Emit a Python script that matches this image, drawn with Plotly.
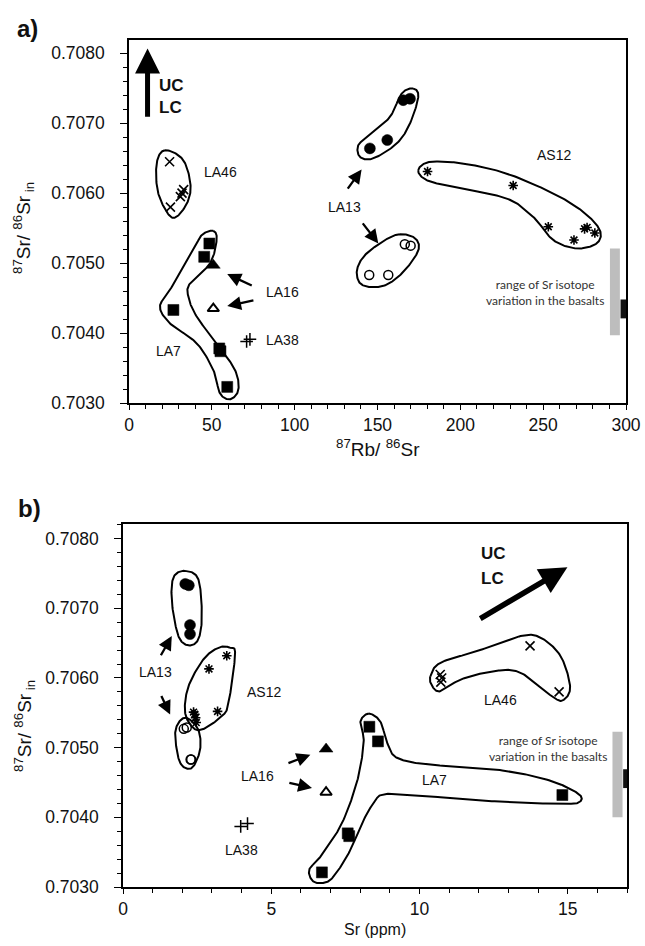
import numpy as np
import plotly.graph_objects as go

W, H = 645, 946

# ---------------- Panel a : 87Rb/86Sr vs 87Sr/86Sr_in ----------------
a_la46_x = [24.5, 25.0, 31.0, 32.0, 33.0]
a_la46_y = [0.70645, 0.70580, 0.70595, 0.70600, 0.70605]
a_la7_x = [48.5, 45.4, 26.8, 54.5, 55.2, 59.3]
a_la7_y = [0.70528, 0.70509, 0.70433, 0.70378, 0.70374, 0.70323]
a_la16f_x = [50.9]
a_la16f_y = [0.70497]
a_la16o_x = [50.9]
a_la16o_y = [0.70435]
a_la38_x = [71.0, 73.0]
a_la38_y = [0.70388, 0.70391]
a_la13f_x = [165.5, 169.6, 155.9, 145.4]
a_la13f_y = [0.70733, 0.70735, 0.70676, 0.70664]
a_la13o_x = [145.0, 156.5, 166.5, 170.0]
a_la13o_y = [0.70483, 0.70483, 0.70527, 0.70525]
a_as12_x = [180.2, 231.9, 253.1, 268.6, 275.0, 276.5, 281.2]
a_as12_y = [0.70631, 0.70611, 0.70552, 0.70533, 0.70549, 0.70551, 0.70543]

# envelopes (hand-drawn outlines, control points)
a_env_la46_x = [21.7, 16.7, 17.7, 25.8, 33.8, 37.2, 32.8]
a_env_la46_y = [0.706614, 0.706424, 0.705996, 0.705653, 0.705804, 0.706090, 0.706471]
a_env_la7_x = [50.9, 52.9, 48.9, 36.8, 35.8, 40.9, 52.9, 64.0, 66.0, 61.0, 54.9, 50.9,
               40.9, 24.7, 18.7, 24.7, 38.8, 43.9]
a_env_la7_y = [0.705461, 0.705329, 0.704996, 0.704710, 0.704519, 0.704233, 0.703853,
               0.703471, 0.703186, 0.703053, 0.703139, 0.703471, 0.703853, 0.704139,
               0.704376, 0.704614, 0.705186, 0.705400]
a_env_la13f_x = [171.6, 174.6, 169.6, 161.6, 147.4, 139.4, 138.4, 145.4, 157.5, 164.6]
a_env_la13f_y = [0.707496, 0.707376, 0.706996, 0.706710, 0.706496, 0.706519, 0.706686,
                 0.706829, 0.707090, 0.707424]
a_env_la13o_x = [163.5, 172.6, 174.7, 166.6, 156.3, 146.6, 139.4, 137.6, 142.4, 154.5]
a_env_la13o_y = [0.705414, 0.705357, 0.705186, 0.704900, 0.704700, 0.704657, 0.704714,
                 0.704900, 0.705114, 0.705329]
a_env_as12_x = [174.6, 181.7, 201.8, 227.9, 256.1, 274.2, 284.2, 282.3, 270.2, 256.1,
                244.0, 227.9, 195.7, 179.7]
a_env_as12_y = [0.706329, 0.706447, 0.706424, 0.706281, 0.705996, 0.705733, 0.705471,
                0.705281, 0.705210, 0.705329, 0.705661, 0.705924, 0.706090, 0.706186]

# arrows: (tail_x, tail_y, head_x, head_y)
a_arrows = [(131.4, 0.706043, 140.4, 0.706339),
            (140.4, 0.705590, 150.5, 0.705281),
            (75.0, 0.704671, 59.3, 0.704843),
            (76.0, 0.704471, 59.3, 0.704386)]
a_ucarrow = (11.2, 0.70707, 11.2, 0.70807)
a_basalt_grey = (290.3, 296.3, 0.70397, 0.70521)
a_basalt_black = (296.7, 300.5, 0.70421, 0.70448)

# ---------------- Panel b : Sr (ppm) vs 87Sr/86Sr_in ----------------
b_la46_x = [10.70, 10.75, 10.72, 13.73, 14.71]
b_la46_y = [0.70605, 0.70600, 0.70594, 0.70646, 0.70580]
b_la7_x = [8.31, 8.60, 14.82, 7.58, 7.63, 6.71]
b_la7_y = [0.70530, 0.70509, 0.70432, 0.70377, 0.70373, 0.70321]
b_la16f_x = [6.85]
b_la16f_y = [0.70498]
b_la16o_x = [6.85]
b_la16o_y = [0.70436]
b_la38_x = [3.97, 4.20]
b_la38_y = [0.70387, 0.70391]
b_la13f_x = [2.10, 2.22, 2.26, 2.26]
b_la13f_y = [0.70735, 0.70733, 0.70676, 0.70663]
b_la13o_x = [2.05, 2.15, 2.28, 2.30]
b_la13o_y = [0.70527, 0.70529, 0.70483, 0.70483]
b_as12_x = [3.50, 2.90, 3.19, 2.38, 2.42, 2.45, 2.47]
b_as12_y = [0.70632, 0.70613, 0.70552, 0.70551, 0.70548, 0.70543, 0.70536]

b_env_la13f_x = [2.09, 2.54, 2.66, 2.54, 2.21, 1.87, 1.65, 1.70]
b_env_la13f_y = [0.707537, 0.707417, 0.706889, 0.706554, 0.706468, 0.706601, 0.707082, 0.707442]
b_env_as12_x = [3.61, 3.78, 3.56, 3.33, 2.66, 2.32, 2.09, 2.21, 2.71, 3.22]
b_env_as12_y = [0.706435, 0.706338, 0.705643, 0.705450, 0.705259, 0.705306, 0.705522,
                0.705882, 0.706266, 0.706435]
b_env_la13o_x = [2.15, 2.54, 2.60, 2.32, 1.93, 1.76, 1.87]
b_env_la13o_y = [0.705427, 0.705259, 0.704971, 0.704708, 0.704780, 0.705163, 0.705355]
b_env_la46_x = [10.37, 10.71, 11.95, 13.41, 14.09, 14.76, 15.08, 14.88, 14.54, 13.41,
                12.51, 11.39, 10.71, 10.43]
b_env_la46_y = [0.706026, 0.706219, 0.706386, 0.706601, 0.706578, 0.706314, 0.705882,
                0.705691, 0.705715, 0.706075, 0.706098, 0.705978, 0.705810, 0.705882]
b_env_la7_x = [8.29, 8.68, 8.91, 9.25, 10.37, 12.63, 14.31, 15.33, 15.42, 14.88, 12.63,
               10.37, 8.85, 8.46, 8.12, 7.67, 7.22, 6.88, 6.43, 6.28, 6.66, 7.33, 7.78,
               8.01, 8.12, 8.01]
b_env_la7_y = [0.705489, 0.705374, 0.705068, 0.704852, 0.704755, 0.704683, 0.704540,
               0.704348, 0.704227, 0.704194, 0.704227, 0.704299, 0.704334, 0.704204,
               0.703964, 0.703532, 0.703216, 0.703072, 0.703076, 0.703245, 0.703436,
               0.703868, 0.704348, 0.704731, 0.705115, 0.705374]

b_arrows = [(1.25, 0.706305, 1.645, 0.706601),
            (1.27, 0.705763, 1.59, 0.705475),
            (5.53, 0.704770, 6.32, 0.704899),
            (5.56, 0.704501, 6.375, 0.704420)]
b_ucarrow = (12.0, 0.70684, 14.99, 0.70759)
b_basalt_grey = (16.51, 16.85, 0.70400, 0.70523)
b_basalt_black = (16.87, 17.05, 0.70442, 0.70469)

# labels: (text, x, y)
a_labels = [("LA46", 55.2, 0.70630), ("LA16", 92.6, 0.70458), ("LA38", 92.6, 0.70390),
            ("LA7", 24.0, 0.70375), ("LA13", 129.8, 0.70580), ("AS12", 256.8, 0.70654)]
b_labels = [("LA13", 1.08, 0.70608), ("AS12", 4.74, 0.70580), ("LA16", 4.54, 0.70460),
            ("LA38", 4.01, 0.70353), ("LA7", 10.52, 0.70454), ("LA46", 12.74, 0.70569)]
a_uc = (16.9, 0.70754, 0.70722)
b_uc = (12.0, 0.70778, 0.70743)
a_range_text = (250.9, 0.704586)
b_range_text = (14.32, 0.704983)

FONT = "Liberation Sans, Arial, sans-serif"


def closed_curve(xs, ys, n=24):
    P = np.array([xs, ys], dtype=float).T
    N = len(P)
    out = []
    for i in range(N):
        p0, p1, p2, p3 = P[(i - 1) % N], P[i], P[(i + 1) % N], P[(i + 2) % N]
        for t in np.linspace(0, 1, n, endpoint=False):
            t2, t3 = t * t, t * t * t
            pt = 0.5 * ((2 * p1) + (-p0 + p2) * t + (2 * p0 - 5 * p1 + 4 * p2 - p3) * t2
                        + (-p0 + 3 * p1 - 3 * p2 + p3) * t3)
            out.append(pt)
    out.append(out[0])
    out = np.array(out)
    return out[:, 0], out[:, 1]


fig = go.Figure()


def add_env(xs, ys, xa, ya):
    cx, cy = closed_curve(xs, ys)
    fig.add_trace(go.Scatter(x=cx, y=cy, mode="lines", xaxis=xa, yaxis=ya,
                             line=dict(color="black", width=2), hoverinfo="skip",
                             showlegend=False))


def add_pts(xs, ys, xa, ya, symbol, size, lw=1.5, color="black", name=""):
    fig.add_trace(go.Scatter(x=xs, y=ys, mode="markers", xaxis=xa, yaxis=ya, name=name,
                             marker=dict(symbol=symbol, size=size, color=color,
                                         line=dict(color="black", width=lw)),
                             showlegend=False))


# panel a
for ex, ey in [(a_env_la46_x, a_env_la46_y), (a_env_la7_x, a_env_la7_y),
               (a_env_la13f_x, a_env_la13f_y), (a_env_la13o_x, a_env_la13o_y),
               (a_env_as12_x, a_env_as12_y)]:
    add_env(ex, ey, "x", "y")
add_pts(a_la46_x, a_la46_y, "x", "y", "x-thin-open", 9, 1.6, name="LA46")
add_pts(a_la7_x, a_la7_y, "x", "y", "square", 11, 0.5, name="LA7")
add_pts(a_la16f_x, a_la16f_y, "x", "y", "triangle-up", 12, 0.5, name="LA16")
add_pts(a_la16o_x, a_la16o_y, "x", "y", "triangle-up-open", 10, 2, name="LA16")
add_pts(a_la38_x, a_la38_y, "x", "y", "cross-thin-open", 9, 1.5, name="LA38")
add_pts(a_la13f_x, a_la13f_y, "x", "y", "circle", 11, 0.5, name="LA13")
add_pts(a_la13o_x, a_la13o_y, "x", "y", "circle-open", 9, 1.5, name="LA13")
add_pts(a_as12_x, a_as12_y, "x", "y", "asterisk-open", 8, 1.6, name="AS12")

# panel b
for ex, ey in [(b_env_la13f_x, b_env_la13f_y), (b_env_as12_x, b_env_as12_y),
               (b_env_la13o_x, b_env_la13o_y), (b_env_la46_x, b_env_la46_y),
               (b_env_la7_x, b_env_la7_y)]:
    add_env(ex, ey, "x2", "y2")
add_pts(b_la46_x, b_la46_y, "x2", "y2", "x-thin-open", 9, 1.6, name="LA46")
add_pts(b_la7_x, b_la7_y, "x2", "y2", "square", 11, 0.5, name="LA7")
add_pts(b_la16f_x, b_la16f_y, "x2", "y2", "triangle-up", 12, 0.5, name="LA16")
add_pts(b_la16o_x, b_la16o_y, "x2", "y2", "triangle-up-open", 10, 2, name="LA16")
add_pts(b_la38_x, b_la38_y, "x2", "y2", "cross-thin-open", 9, 1.5, name="LA38")
add_pts(b_la13f_x, b_la13f_y, "x2", "y2", "circle", 11, 0.5, name="LA13")
add_pts(b_la13o_x, b_la13o_y, "x2", "y2", "circle-open", 9, 1.5, name="LA13")
add_pts(b_as12_x, b_as12_y, "x2", "y2", "asterisk-open", 8, 1.6, name="AS12")

annotations = []
shapes = []


def arrow(t, xr, yr, width, size=1.0):
    annotations.append(dict(x=t[2], y=t[3], ax=t[0], ay=t[1], xref=xr, yref=yr,
                            axref=xr, ayref=yr, text="", showarrow=True, arrowhead=2,
                            arrowsize=size, arrowwidth=width, arrowcolor="black",
                            standoff=0, startstandoff=0))


for t in a_arrows:
    arrow(t, "x", "y", 2.3, 1.2)
for t in b_arrows:
    arrow(t, "x2", "y2", 2.3, 1.2)
arrow(a_ucarrow, "x", "y", 5, 1.0)
arrow(b_ucarrow, "x2", "y2", 5.5, 1.0)

for txt, x, y in a_labels:
    annotations.append(dict(x=x, y=y, xref="x", yref="y", text=txt, showarrow=False,
                            xanchor="center", yanchor="middle",
                            font=dict(family=FONT, size=14, color="#111")))
for txt, x, y in b_labels:
    annotations.append(dict(x=x, y=y, xref="x2", yref="y2", text=txt, showarrow=False,
                            xanchor="center", yanchor="middle",
                            font=dict(family=FONT, size=14, color="#111")))

for (ux, uy, ly), xr, yr in [(a_uc, "x", "y"), (b_uc, "x2", "y2")]:
    for txt, yy in [("UC", uy), ("LC", ly)]:
        annotations.append(dict(x=ux, y=yy, xref=xr, yref=yr, text="<b>%s</b>" % txt,
                                showarrow=False, xanchor="left", yanchor="middle",
                                font=dict(family=FONT, size=17, color="#111")))

for (tx, ty), xr, yr in [(a_range_text, "x", "y"), (b_range_text, "x2", "y2")]:
    annotations.append(dict(x=tx, y=ty, xref=xr, yref=yr,
                            text="range of Sr isotope<br>variation in the basalts",
                            showarrow=False, align="center", xanchor="center",
                            yanchor="middle",
                            font=dict(family="Lato, Open Sans, sans-serif", size=12,
                                      color="#333")))

for g, b, xr, yr in [(a_basalt_grey, a_basalt_black, "x", "y"),
                     (b_basalt_grey, b_basalt_black, "x2", "y2")]:
    shapes.append(dict(type="rect", xref=xr, yref=yr, x0=g[0], x1=g[1], y0=g[2], y1=g[3],
                       fillcolor="#bdbdbd", line=dict(width=0), layer="below"))
    shapes.append(dict(type="rect", xref=xr, yref=yr, x0=b[0], x1=b[1], y0=b[2], y1=b[3],
                       fillcolor="#111", line=dict(width=0)))


def px_x(p):
    return p / W


def px_y(p):
    return 1 - p / H


def paper_text(txt, x, y, size, angle=0):
    annotations.append(dict(x=px_x(x), y=px_y(y), xref="paper", yref="paper", text=txt,
                            textangle=angle, showarrow=False, xanchor="center",
                            yanchor="middle", borderpad=0,
                            font=dict(family=FONT, size=size, color="#111")))


# panel letters and axis titles (paper coords from pixel positions)
paper_text("<b>a)</b>", 27, 28, 24)
paper_text("<b>b)</b>", 29, 508, 24)
ytitle = "<sup>87</sup>Sr/ <sup>86</sup>Sr<sub> in</sub>"
paper_text(ytitle, 23, 228, 19, -90)
paper_text(ytitle, 24, 726, 19, -90)
paper_text("<sup>87</sup>Rb/ <sup>86</sup>Sr", 378, 448, 19)
paper_text("Sr (ppm)", 375, 929, 16)

axis_common = dict(showline=True, linecolor="black", linewidth=1.6, mirror=True,
                   showgrid=False, zeroline=False, ticks="outside", tickwidth=1.3,
                   tickcolor="black", automargin=False,
                   tickfont=dict(family=FONT, size=17.5, color="#111"))
minor_common = dict(ticks="outside", ticklen=4, tickwidth=1.2, tickcolor="black")

fig.update_layout(
    width=W, height=H, margin=dict(l=0, r=0, t=0, b=0),
    paper_bgcolor="white", plot_bgcolor="white", showlegend=False,
    xaxis=dict(domain=[129 / W, 626 / W], range=[0, 300], anchor="y", tick0=0, dtick=50,
               ticklen=5, minor=dict(dtick=10, **minor_common),
               ticklabelstandoff=0, **axis_common),
    yaxis=dict(domain=[px_y(403), px_y(40)], range=[0.7030, 0.70819], anchor="x",
               tick0=0.703, dtick=0.001, tickformat=".4f", ticklen=7,
               minor=dict(dtick=0.0002, **minor_common),
               ticklabelstandoff=12, **axis_common),
    xaxis2=dict(domain=[123 / W, 627 / W], range=[0, 17], anchor="y2", tick0=0, dtick=5,
                ticklen=5, minor=dict(dtick=1, **minor_common),
                ticklabelstandoff=0, **axis_common),
    yaxis2=dict(domain=[px_y(887), px_y(524)], range=[0.7030, 0.70821], anchor="x2",
                tick0=0.703, dtick=0.001, tickformat=".4f", ticklen=7,
                minor=dict(dtick=0.0002, **minor_common),
                ticklabelstandoff=12, **axis_common),
    annotations=annotations, shapes=shapes,
)

fig.write_html("out.html", config={"displayModeBar": False},
               post_script="document.body.style.margin='0';"
                           "document.body.style.overflow='hidden';")
